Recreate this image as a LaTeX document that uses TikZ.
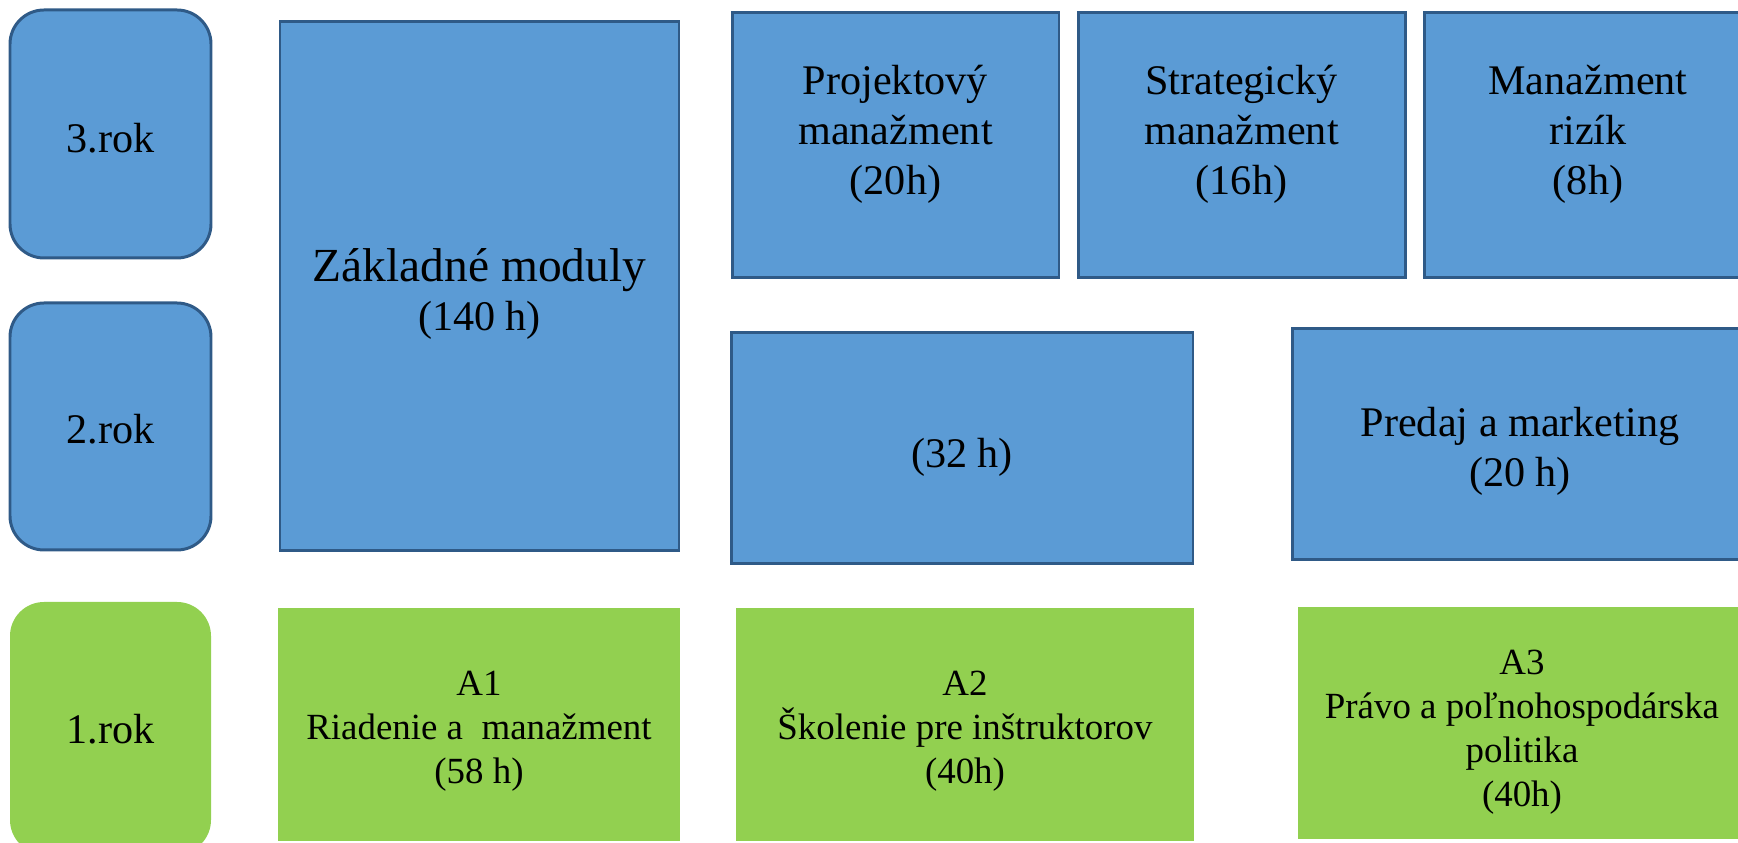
\documentclass[tikz,border=0pt]{standalone}
\usepackage{fontspec}
\setmainfont{Liberation Serif}
\definecolor{boxblue}{HTML}{5B9BD5}
\definecolor{edgeblue}{HTML}{2F5A87}
\definecolor{boxgreen}{HTML}{92D050}
\begin{document}
\begin{tikzpicture}[x=0.1mm,y=-0.1mm,
  bluebox/.style={draw=edgeblue, line width=0.85pt, fill=boxblue, inner sep=0pt},
  greenbox/.style={fill=boxgreen, inner sep=0pt},
  roundbox/.style={rounded corners=3.4mm},
  bluetxt/.style={align=center, inner sep=0pt, font=\fontsize{12}{14.2}\selectfont},
  greentxt/.style={align=center, inner sep=0pt, font=\fontsize{10.5}{12.5}\selectfont},
]
\useasboundingbox (0,0) rectangle (1738,843);
\clip (0,0) rectangle (1738,843);

% year boxes
\node[bluebox, roundbox, minimum width=20.1mm, minimum height=24.8mm] (r3) at (110.5,134) {};
\node[bluetxt] (r3T) at (110.5,138) {3.rok};
\node[bluebox, roundbox, minimum width=20.1mm, minimum height=24.7mm] (r2) at (110.5,426.5) {};
\node[bluetxt] (r2T) at (110.5,429) {2.rok};
\node[greenbox, roundbox, minimum width=20.1mm, minimum height=25.2mm] (r1) at (110.5,728) {};
\node[bluetxt] (r1T) at (110.5,729) {1.rok};

% basic modules
\node[bluebox, minimum width=39.9mm, minimum height=52.9mm] (zak) at (479.5,286.5) {};
\node[bluetxt] (zakT) at (479.5,294) {{\fontsize{13.5}{14.2}\selectfont Základné moduly}\\(140 h)};

% top row
\node[bluebox, minimum width=32.7mm, minimum height=26.5mm] (proj) at (895.5,145.5) {};
\node[bluetxt] (projT) at (895.5,134) {Projektový\\manažment\\(20h)};
\node[bluebox, minimum width=32.7mm, minimum height=26.5mm] (strat) at (1241.5,145.5) {};
\node[bluetxt] (stratT) at (1241.5,134) {Strategický\\manažment\\(16h)};
\node[bluebox, minimum width=32.8mm, minimum height=26.5mm] (mriz) at (1588,145.5) {};
\node[bluetxt] (mrizT) at (1588,134) {Manažment\\rizík\\(8h)};

% middle row
\node[bluebox, minimum width=46.2mm, minimum height=23.1mm] (h32) at (962,448.5) {};
\node[bluetxt] (h32T) at (962,457) {(32 h)};
\node[bluebox, minimum width=45.6mm, minimum height=23.1mm] (pred) at (1520,444.5) {};
\node[bluetxt] (predT) at (1520,451) {Predaj a marketing\\(20 h)};

% first year
\node[greenbox, minimum width=40.2mm, minimum height=23.3mm] (a1) at (479,724.5) {};
\node[greentxt] (a1T) at (479,731.5) {A1\\Riadenie a\ \ manažment\\(58 h)};
\node[greenbox, minimum width=45.8mm, minimum height=23.3mm] (a2) at (965,724.5) {};
\node[greentxt] (a2T) at (965,731.5) {A2\\Školenie pre inštruktorov\\(40h)};
\node[greenbox, minimum width=44.8mm, minimum height=23.2mm] (a3) at (1522,723) {};
\node[greentxt] (a3T) at (1522,732) {A3\\Právo a poľnohospodárska\\politika\\(40h)};
\end{tikzpicture}
\end{document}
